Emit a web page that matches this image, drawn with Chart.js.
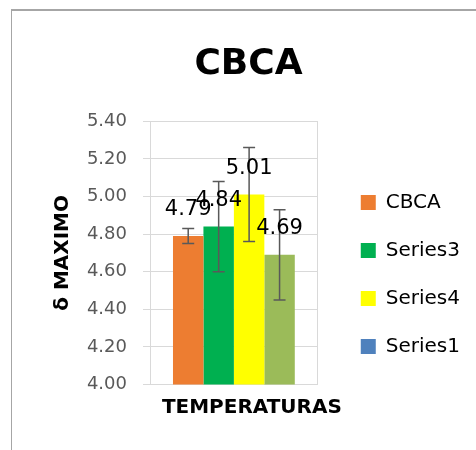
<!DOCTYPE html>
<html>
<head>
<meta charset="utf-8">
<script src="https://cdn.jsdelivr.net/npm/chart.js@4.4.0/dist/chart.umd.min.js"></script>
<style>
  html, body { margin: 0; padding: 0; background: #fff; overflow: hidden; }
  #frame {
    position: absolute; left: 11px; top: 9px;
    width: 480px; height: 450px;
    border-left: 1px solid #a6a6a6; border-top: 2px solid #a6a6a6;
  }
  #chart { position: absolute; left: 0; top: 0; }
</style>
</head>
<body>
<div id="frame"><canvas id="chart" width="476" height="441"></canvas></div>
<script>
// data
const categories = [''];
const seriesNames = ['CBCA', 'Series3', 'Series4', 'Series1'];
const values = [4.79, 4.84, 5.01, 4.69];
const errors = [0.04, 0.24, 0.25, 0.24];
const barColors = ['#ED7D31', '#00B050', '#FFFF00', '#9BBB59'];
const legendColors = ['#ED7D31', '#00B050', '#FFFF00', '#4F81BD'];
const xTitle = 'TEMPERATURAS';

const FONT = "'DejaVu Sans', sans-serif";

// error bars + value labels + x axis title (sits a bit right of the plot centre)
const errorBars = {
  id: 'errorBars',
  afterDatasetsDraw(chart) {
    const ctx = chart.ctx;
    const y = chart.scales.y;
    ctx.save();
    ctx.strokeStyle = '#595959';
    ctx.lineWidth = 1.5;
    chart.data.datasets.forEach((ds, i) => {
      const bar = chart.getDatasetMeta(i).data[0];
      const top = y.getPixelForValue(values[i] + errors[i]);
      const bot = y.getPixelForValue(values[i] - errors[i]);
      ctx.beginPath();
      ctx.moveTo(bar.x, top); ctx.lineTo(bar.x, bot);
      ctx.moveTo(bar.x - 6, top); ctx.lineTo(bar.x + 6, top);
      ctx.moveTo(bar.x - 6, bot); ctx.lineTo(bar.x + 6, bot);
      ctx.stroke();
    });
    ctx.fillStyle = '#000';
    ctx.font = '21px ' + FONT;
    ctx.textAlign = 'center';
    ctx.textBaseline = 'middle';
    chart.data.datasets.forEach((ds, i) => {
      const bar = chart.getDatasetMeta(i).data[0];
      ctx.fillText(values[i].toFixed(2), bar.x, bar.y - 26);
    });
    const xs = chart.scales.x;
    ctx.font = 'bold 20px ' + FONT;
    ctx.fillText(xTitle, (xs.left + xs.right) / 2 + 18, xs.bottom - 11);
    ctx.restore();
  }
};

const data = {
  labels: categories,
  datasets: seriesNames.map((name, i) => ({
    label: name,
    data: [values[i]],
    backgroundColor: barColors[i],
    categoryPercentage: 0.726,
    barPercentage: 1
  }))
};

const config = {
  type: 'bar',
  data: data,
  options: {
    responsive: false,
    animation: false,
    layout: { padding: { left: 15, right: 18, top: 0, bottom: 33 } },
    plugins: {
      title: {
        display: true,
        text: 'CBCA',
        color: '#000',
        font: { family: FONT, size: 36, weight: 'bold' },
        padding: { top: 32, bottom: 35 }
      },
      legend: {
        position: 'right',
        maxWidth: 200,
        title: { display: true, text: ' ', font: { size: 1 }, padding: { top: 118, bottom: 0 } },
        labels: {
          color: '#000',
          font: { family: FONT, size: 20 },
          boxWidth: 15,
          boxHeight: 15,
          padding: 28,
          generateLabels(chart) {
            return seriesNames.map((name, i) => ({
              text: name,
              fillStyle: legendColors[i],
              strokeStyle: legendColors[i],
              fontColor: '#000',
              lineWidth: 0,
              datasetIndex: i
            }));
          }
        }
      },
      tooltip: { enabled: false }
    },
    scales: {
      x: {
        grid: { color: '#D9D9D9', drawTicks: false },
        border: { color: '#D9D9D9' },
        ticks: { display: false },
        // keeps the room for the title, the text itself is drawn by the plugin
        title: {
          display: true,
          text: xTitle,
          color: 'rgba(0,0,0,0)',
          font: { family: FONT, size: 22, weight: 'bold' },
          padding: { top: 8, bottom: 0 }
        }
      },
      y: {
        min: 4,
        max: 5.4,
        grid: { color: '#D9D9D9', tickLength: 7 },
        border: { color: '#D9D9D9' },
        ticks: {
          stepSize: 0.2,
          color: '#595959',
          font: { family: FONT, size: 18 },
          padding: 16,
          callback: v => v.toFixed(2)
        },
        title: {
          display: true,
          text: 'δ MAXIMO',
          color: '#000',
          font: { family: FONT, size: 20, weight: 'bold' },
          padding: { top: 24, bottom: 13 }
        },
        afterFit(scale) { scale.width = 123; }
      },
      gap: {
        position: 'right',
        grid: { display: false },
        border: { display: false },
        ticks: { display: false },
        afterFit(scale) { scale.width = 15; }
      }
    }
  },
  plugins: [errorBars]
};

const chart = new Chart(document.getElementById('chart'), config);
</script>
</body>
</html>
